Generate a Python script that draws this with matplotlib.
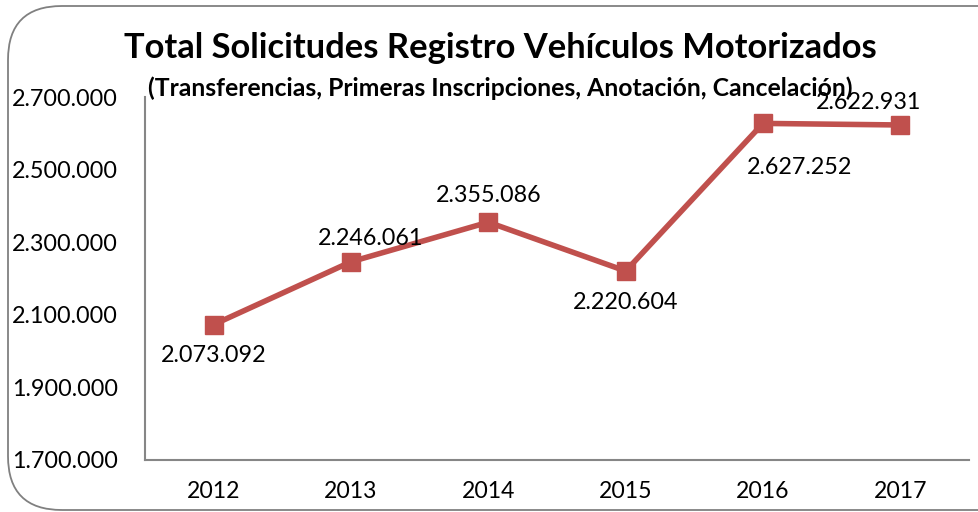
import matplotlib
matplotlib.use("Agg")
import matplotlib.pyplot as plt
from matplotlib.patches import FancyBboxPatch

years = ["2012", "2013", "2014", "2015", "2016", "2017"]
totals = [2073092, 2246061, 2355086, 2220604, 2627252, 2622931]
labels = ["2.073.092", "2.246.061", "2.355.086", "2.220.604", "2.627.252", "2.622.931"]
yticks = [1700000, 1900000, 2100000, 2300000, 2500000, 2700000]
# label offsets in points (dx, dy)
offsets = [(0, -22), (14, 17), (0, 19), (0, -23), (26, -32), (-23, 16)]

plt.rcParams["font.family"] = ["Lato", "DejaVu Sans"]
W, H = 979, 512
fig = plt.figure(figsize=(W / 100, H / 100), dpi=100)

border = FancyBboxPatch((8 / W, 2 / H), 1.2, (H - 8) / H,
                        boxstyle="round,pad=0,rounding_size=0.055",
                        transform=fig.transFigure, fill=False,
                        edgecolor="#808080", linewidth=1.3, mutation_aspect=W / H)
fig.patches.append(border)

ax = fig.add_axes([145 / W, (H - 460) / H, (969 - 145) / W, (460 - 97) / H])
x = range(len(years))
ax.plot(x, totals, color="#C0504D", linewidth=4, marker="s", markersize=13,
        markerfacecolor="#C0504D", markeredgecolor="#C0504D")
for i, (v, lab) in enumerate(zip(totals, labels)):
    ax.annotate(lab, (i, v), xytext=offsets[i], textcoords="offset points",
                ha="center", va="center", fontsize=16.8)

ax.set_xlim(-0.5, 5.5)
ax.set_ylim(1700000, 2700000)
ax.set_xticks(list(x))
ax.set_xticklabels(years, fontsize=16.6)
ax.set_yticks(yticks)
ax.set_yticklabels([f"{t:,}".replace(",", ".") for t in yticks], fontsize=16.8)
ax.tick_params(length=0)
ax.tick_params(axis="x", pad=15)
ax.tick_params(axis="y", pad=19.5)
for s in ["top", "right"]:
    ax.spines[s].set_visible(False)
for s in ["left", "bottom"]:
    ax.spines[s].set_color("#868686")
    ax.spines[s].set_linewidth(1.5)

fig.text(500 / W, 1 - 48 / H, "Total Solicitudes Registro Vehículos Motorizados",
         ha="center", va="center", fontsize=24.8, fontweight="bold")
fig.text(500 / W, 1 - 88 / H, "(Transferencias, Primeras Inscripciones, Anotación, Cancelación)",
         ha="center", va="center", fontsize=17.8, fontweight="bold")

fig.savefig("out.png", dpi=100)
